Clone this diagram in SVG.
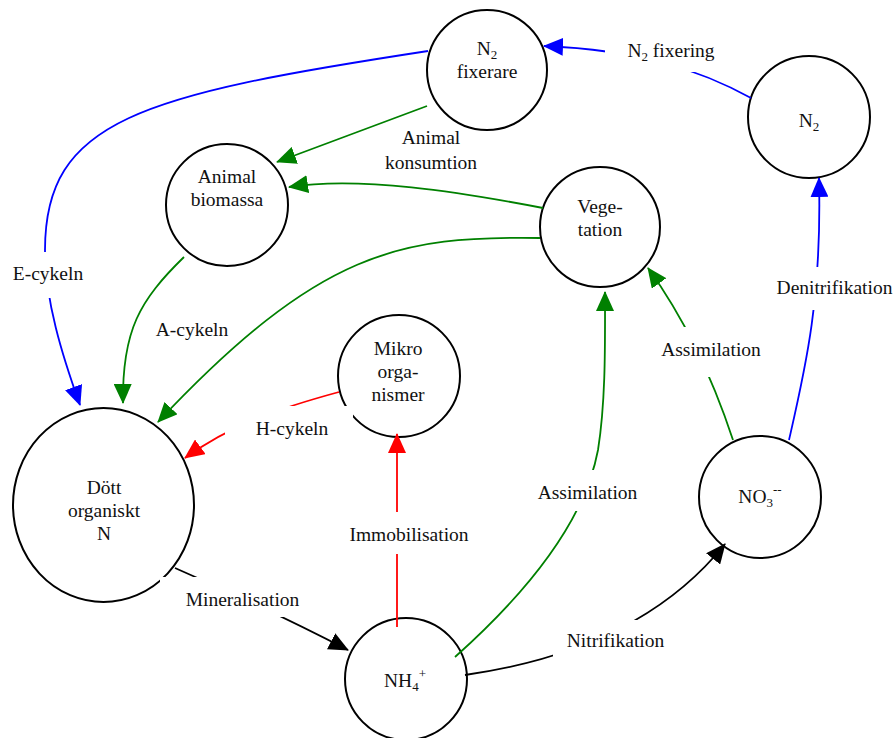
<svg xmlns="http://www.w3.org/2000/svg" width="896" height="738" viewBox="0 0 896 738">
<style>
.node{fill:#fff;stroke:#000;stroke-width:2}
.t{font-family:"Liberation Serif","Times New Roman",serif;font-size:19.5px;fill:#111;text-anchor:middle}
.sub{font-size:13px}
.c{fill:none;stroke-width:1.8}
.blue{stroke:#0000ff}
.green{stroke:#008000}
.red{stroke:#ff0000}
.black{stroke:#000}
.lb{fill:#fff;stroke:none}
</style>
<defs>
<marker id="ab" markerUnits="userSpaceOnUse" markerWidth="20" markerHeight="18" refX="19" refY="9" orient="auto"><path d="M0,0 L20,9 L0,18 z" fill="#0000ff"/></marker>
<marker id="ag" markerUnits="userSpaceOnUse" markerWidth="20" markerHeight="18" refX="19" refY="9" orient="auto"><path d="M0,0 L20,9 L0,18 z" fill="#008000"/></marker>
<marker id="ar" markerUnits="userSpaceOnUse" markerWidth="20" markerHeight="18" refX="19" refY="9" orient="auto"><path d="M0,0 L20,9 L0,18 z" fill="#ff0000"/></marker>
<marker id="ak" markerUnits="userSpaceOnUse" markerWidth="20" markerHeight="18" refX="19" refY="9" orient="auto"><path d="M0,0 L20,9 L0,18 z" fill="#000"/></marker>
</defs>

<g id="n2fixerare"><circle class="node" cx="487" cy="70" r="60"/>
<text class="t" x="487" y="55">N<tspan class="sub" dy="4">2</tspan></text>
<text class="t" x="487" y="78">fixerare</text></g>
<g id="n2"><circle class="node" cx="809" cy="117" r="61"/>
<text class="t" x="809" y="127">N<tspan class="sub" dy="4">2</tspan></text></g>
<g id="animal"><circle class="node" cx="227" cy="205" r="61"/>
<text class="t" x="227" y="183">Animal</text>
<text class="t" x="227" y="206">biomassa</text></g>
<g id="vegetation"><circle class="node" cx="600" cy="227" r="60"/>
<text class="t" x="600" y="213">Vege-</text>
<text class="t" x="600" y="236">tation</text></g>
<g id="mikro"><circle class="node" cx="399" cy="376" r="61"/>
<text class="t" x="398" y="355">Mikro</text>
<text class="t" x="398" y="378">orga-</text>
<text class="t" x="398" y="401">nismer</text></g>
<g id="dott"><ellipse class="node" cx="103.5" cy="505" rx="90.5" ry="97"/>
<text class="t" x="104" y="494">Dött</text>
<text class="t" x="104" y="517">organiskt</text>
<text class="t" x="104" y="540">N</text></g>
<g id="no3"><circle class="node" cx="760" cy="497" r="61"/>
<text class="t" x="760" y="503">NO<tspan class="sub" dy="4">3</tspan><tspan class="sub" dy="-13">--</tspan></text></g>
<g id="nh4"><circle class="node" cx="406" cy="679" r="61"/>
<text class="t" x="405" y="687">NH<tspan class="sub" dy="4">4</tspan><tspan class="sub" dy="-13">+</tspan></text></g>

<g id="connectors">
<path class="c blue" d="M 428 51 C 140 95, 45 120, 45 250 C 45 300, 62 355, 80 405" marker-end="url(#ab)"/>
<path class="c green" d="M 427 106 L 277 162" marker-end="url(#ag)"/>
<path class="c green" d="M 543 208 C 460 192, 360 176, 289 187" marker-end="url(#ag)"/>
<path class="c green" d="M 540 238 C 400 236, 320 250, 158 422" marker-end="url(#ag)"/>
<path class="c green" d="M 184 257 C 140 300, 122 330, 123 403" marker-end="url(#ag)"/>
<path class="c red" d="M 339 392 C 280 408, 230 425, 185 458" marker-end="url(#ar)"/>
<path class="c red" d="M 397 627 L 397 434" marker-end="url(#ar)"/>
<path class="c black" d="M 175 568 C 230 592, 290 620, 348 650" marker-end="url(#ak)"/>
<path class="c green" d="M 455 657 C 530 590, 585 520, 598 450 C 606 400, 605 340, 605 292" marker-end="url(#ag)"/>
<path class="c black" d="M 465 675 Q 640 650 725 544" marker-end="url(#ak)"/>
<path class="c green" d="M 733 440 Q 700 340 648 268" marker-end="url(#ag)"/>
<path class="c blue" d="M 789 440 C 805 370, 822 300, 819 178" marker-end="url(#ab)"/>
<path class="c blue" d="M 751 98 C 700 70, 640 50, 544 46" marker-end="url(#ab)"/>
</g>

<g id="labels">
<rect class="lb" x="605" y="30" width="97" height="42"/>
<text class="t" x="671" y="57">N<tspan class="sub" dy="4">2</tspan><tspan dy="-4"> fixering</tspan></text>
<text class="t" x="431" y="144">Animal</text>
<text class="t" x="431" y="169">konsumtion</text>
<rect class="lb" x="5" y="252" width="87" height="46"/>
<text class="t" x="48" y="280">E-cykeln</text>
<text class="t" x="192" y="336">A-cykeln</text>
<rect class="lb" x="225" y="406" width="128" height="42"/>
<text class="t" x="292" y="435">H-cykeln</text>
<rect class="lb" x="345" y="512" width="128" height="42"/>
<text class="t" x="409" y="541">Immobilisation</text>
<rect class="lb" x="530" y="470" width="115" height="41"/>
<text class="t" x="587.5" y="499">Assimilation</text>
<rect class="lb" x="655" y="327" width="113" height="50"/>
<text class="t" x="711" y="356">Assimilation</text>
<rect class="lb" x="770" y="267" width="126" height="43"/>
<text class="t" x="834.5" y="294">Denitrifikation</text>
<rect class="lb" x="553" y="620" width="117" height="42"/>
<text class="t" x="615.5" y="647">Nitrifikation</text>
<rect class="lb" x="160" y="577" width="152" height="40"/>
<text class="t" x="242.5" y="606">Mineralisation</text>
</g>
</svg>
